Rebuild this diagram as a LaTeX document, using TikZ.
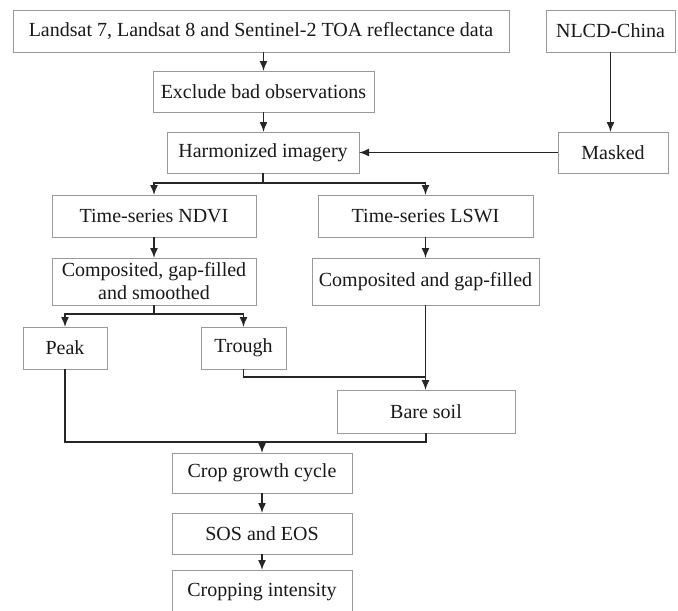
\documentclass[tikz,border=0pt]{standalone}
\usepackage{fontspec}
\setmainfont{Liberation Serif}
\usetikzlibrary{arrows.meta}
\begin{document}
\begin{tikzpicture}[x=1pt,y=-1pt,
  box/.style={draw=black!40, line width=0.9pt, inner sep=0pt, outer sep=0pt,
    font=\fontsize{20}{23}\selectfont, text=black!90, align=center},
  conn/.style={draw=black!85, line width=1.5pt},
  arr/.style={conn, -{Latex[length=10pt,width=8pt]}}]
\useasboundingbox (0,0) rectangle (678,611);
\fill[white] (0,0) rectangle (678,611);

\node[box, minimum width=496pt, minimum height=42pt] (landsat) at (261,31) {Landsat 7, Landsat 8 and Sentinel-2 TOA reflectance data};
\node[box, minimum width=129pt, minimum height=42pt] (nlcd) at (610.5,31) {NLCD-China};
\node[box, minimum width=221pt, minimum height=41pt] (exclude) at (263.5,91.5) {Exclude bad observations};
\node[box, minimum width=192pt, minimum height=41pt] (harm) at (263,152.5) {Harmonized imagery};
\node[box, minimum width=110pt, minimum height=41pt] (masked) at (613,152.5) {Masked};
\node[box, minimum width=204pt, minimum height=42pt] (ndvi) at (154,216) {Time-series NDVI};
\node[box, minimum width=215pt, minimum height=42pt] (lswi) at (425.5,216) {Time-series LSWI};
\node[box, minimum width=204pt, minimum height=47pt] (comp1) at (154,281.5) {Composited, gap-filled\\and smoothed};
\node[box, minimum width=227pt, minimum height=47pt] (comp2) at (425.5,281.5) {Composited and gap-filled};
\node[box, minimum width=84pt, minimum height=42pt] (peak) at (65,348) {Peak};
\node[box, minimum width=85pt, minimum height=42pt] (trough) at (243.5,348) {Trough};
\node[box, minimum width=178pt, minimum height=43pt] (bare) at (426,411.5) {Bare soil};
\node[box, minimum width=180pt, minimum height=40pt] (crop) at (262,473) {Crop growth cycle};
\node[box, minimum width=180pt, minimum height=41pt] (sos) at (262,533.5) {SOS and EOS};
\node[box, minimum width=180pt, minimum height=44pt] (cropping) at (262,592) {Cropping intensity};

\coordinate (tj) at (426,377);
\coordinate (mj) at (262,442);

\draw[arr] (exclude.north |- landsat.south) -- (exclude.north);
\draw[arr] (exclude.south) -- (exclude.south |- harm.north);
\draw[arr] (nlcd.south) -- (nlcd.south |- masked.north);
\draw[arr] (masked.west) -- (harm.east);
\draw[arr] (harm.south) -- ++(0,10) -| (ndvi.north);
\draw[arr] (harm.south) ++(0,10) -| (lswi.north);
\draw[arr] (ndvi.south) -- (comp1.north);
\draw[arr] (lswi.south) -- (comp2.north);
\draw[arr] (comp1.south) -- ++(0,9) -| (peak.north);
\draw[arr] (comp1.south) ++(0,9) -| (trough.north);
\draw[arr] (comp2.south) -- (comp2.south |- bare.north);
\draw[conn] (trough.south) |- (tj);
\draw[conn] (peak.south) |- (mj) -| (bare.south);
\draw[arr] (mj) -- (crop.north);
\draw[arr] (crop.south) -- (sos.north);
\draw[arr] (sos.south) -- (cropping.north);
\end{tikzpicture}
\end{document}
